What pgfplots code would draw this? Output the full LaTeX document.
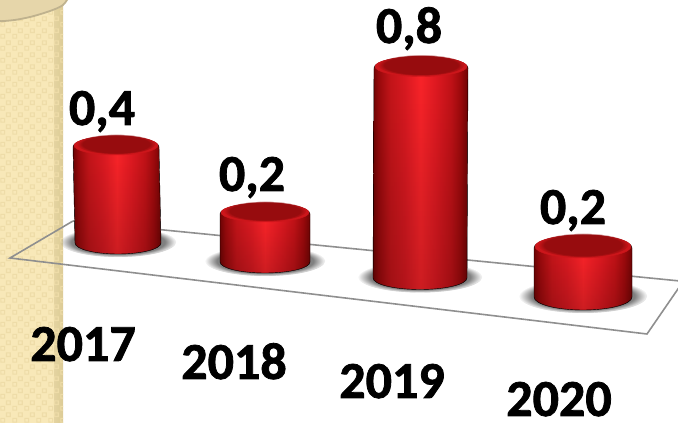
\documentclass[border=0pt]{standalone}
\usepackage{fontspec}
\setmainfont[BoldFeatures={FakeBold=1.5}]{Carlito}
\usepackage{pgfplots}
\usepackage{pgfplotstable}
\pgfplotsset{compat=1.18}
\usetikzlibrary{patterns,fadings}

% x and y are picture pixels, y counted from the bottom; k = pixels per unit (perspective)
\pgfplotstableread{
x   base value k     w  b    dx
118 180  0.4   240   86 11   2
265 161  0.2   240   90 11   0
420 145  0.8   262.5 94 11.5 -1
583 126  0.2   245   98 13   0
}\bars
\pgfplotstableread{
x   y   value
102 298 0.4
252 232 0.2
409 380 0.8
573 199 0.2
}\vallabels
\pgfplotstableread{
x   y  year
83  62 2017
234 44 2018
392 25 2019
559 7  2020
}\yearlabels

\definecolor{strip}{HTML}{F8E8B8}
\definecolor{stripdark}{HTML}{DCCB96}
\definecolor{stripcheck}{HTML}{EEDCA8}
\definecolor{capfill}{HTML}{E6D6AA}
\definecolor{capline}{HTML}{BFB28E}
\definecolor{planeline}{HTML}{8F8F8F}
\definecolor{captop}{HTML}{970C0E}
\definecolor{caprim}{HTML}{CC161B}

\pgfdeclarepatternformonly{checks}{\pgfqpoint{0pt}{0pt}}{\pgfqpoint{12pt}{12pt}}{\pgfqpoint{12pt}{12pt}}{
  \pgfsetlinewidth{1.2pt}
  \pgfpathrectangle{\pgfqpoint{1pt}{1pt}}{\pgfqpoint{4pt}{4pt}}
  \pgfpathrectangle{\pgfqpoint{7pt}{7pt}}{\pgfqpoint{4pt}{4pt}}
  \pgfusepathqstroke
}

\pgfdeclarehorizontalshading{cylside}{100bp}{
  rgb(0bp)=(0.44,0.02,0.02);
  rgb(25bp)=(0.44,0.02,0.02);
  rgb(28bp)=(0.60,0.04,0.05);
  rgb(34bp)=(0.77,0.08,0.10);
  rgb(42bp)=(0.86,0.10,0.13);
  rgb(50bp)=(0.98,0.14,0.16);
  rgb(58bp)=(0.88,0.10,0.13);
  rgb(66bp)=(0.76,0.07,0.09);
  rgb(71bp)=(0.62,0.04,0.05);
  rgb(75bp)=(0.44,0.02,0.02);
  rgb(100bp)=(0.44,0.02,0.02)}

% drawn at each point of the bars table; lengths in pt, as 1 pt is 1 pixel
\newcommand{\cylinder}{%
  \pgfmathsetmacro{\ca}{\cw/2}%
  \pgfmathsetmacro{\ctl}{-\ca-\cdx}%
  \pgfmathsetmacro{\ctr}{\ca-\cdx}%
  \pgfmathsetmacro{\cshx}{\ca+15}%
  \pgfmathsetmacro{\cshy}{\cb+4}%
  \pgfmathsetmacro{\ccx}{\ca-1}%
  \pgfmathsetmacro{\ccy}{\cb-1.5}%
  \pgfmathsetmacro{\ccc}{\cH+1.5}%
  \pgfmathsetmacro{\cix}{\ca-4}%
  \pgfmathsetmacro{\ciy}{\cb-1}%
  \pgfmathsetmacro{\cic}{\cH+3}%
  \fill[black!50,path fading=circle with fuzzy edge 20 percent]
    (0pt,1pt) ellipse[x radius=\cshx pt,y radius=\cshy pt];
  \path[shading=cylside,shading angle=0]
    (\ctl pt,\cH pt) arc[start angle=180,end angle=0,x radius=\ca pt,y radius=\cb pt]
    -- (\ca pt,0pt) arc[start angle=0,end angle=-180,x radius=\ca pt,y radius=\cb pt] -- cycle;
  \fill[black,opacity=.18,path fading=north]
    (\ctl pt,\cH pt) -- (\ctr pt,\cH pt)
    -- (\ca pt,0pt) arc[start angle=0,end angle=-180,x radius=\ca pt,y radius=\cb pt] -- cycle;
  \fill[caprim]
    (-\cdx pt,\ccc pt) ellipse[x radius=\ccx pt,y radius=\ccy pt];
  \fill[captop,path fading=circle with fuzzy edge 15 percent]
    (-\cdx pt,\cic pt) ellipse[x radius=\cix pt,y radius=\ciy pt];
}

\begin{document}
\begin{tikzpicture}
\begin{axis}[
    scale only axis,
    width=678pt,
    height=423pt,
    xmin=0, xmax=678,
    ymin=0, ymax=423,
    hide axis,
    /pgf/number format/assume math mode=true,
    every node near coord/.append style={
      anchor=base,inner sep=0pt,text=black,
      font=\fontsize{52}{60}\selectfont\bfseries},
  ]
  % column on the left
  \addplot[draw=none,left color=strip,right color=stripdark,middle color=strip] coordinates {(0,0) (63,0) (63,423) (0,423)} --cycle;
  \addplot[draw=none,fill=strip] coordinates {(0,0) (54,0) (54,423) (0,423)} --cycle;
  \addplot[draw=none,pattern=checks,pattern color=stripcheck] coordinates {(0,0) (63,0) (63,423) (0,423)} --cycle;
  \addplot[smooth,fill=capfill,draw=capline,line width=1.8pt] coordinates {(-5,428) (-5,404) (10,402.5) (30,406) (50,412) (63,418) (70,428)} --cycle;
  % floor
  \addplot[planeline,line width=1.6pt] coordinates {(73,202) (10,165) (647,89) (680,137)};
  \addplot[planeline,line width=1.6pt] coordinates {(73,202) (680,142)};
  % cylinders
  \addplot[
    scatter,only marks,mark=none,
    point meta=\thisrow{value},
    visualization depends on={\thisrow{value}*\thisrow{k} \as \cH},
    visualization depends on={\thisrow{w} \as \cw},
    visualization depends on={\thisrow{b} \as \cb},
    visualization depends on={\thisrow{dx} \as \cdx},
    scatter/@pre marker code/.code={\cylinder},
    scatter/@post marker code/.code={},
  ] table[x=x,y=base] {\bars};
  % value labels
  \addplot[draw=none,mark=none,
    point meta=\thisrow{value},
    nodes near coords={\pgfmathprintnumber[fixed,fixed zerofill,use comma,precision=1]{\pgfplotspointmeta}},
  ] table[x=x,y=y] {\vallabels};
  % category labels
  \addplot[draw=none,mark=none,
    point meta=explicit symbolic,
    nodes near coords,
  ] table[x=x,y=y,meta=year] {\yearlabels};
\end{axis}
\end{tikzpicture}
\end{document}
